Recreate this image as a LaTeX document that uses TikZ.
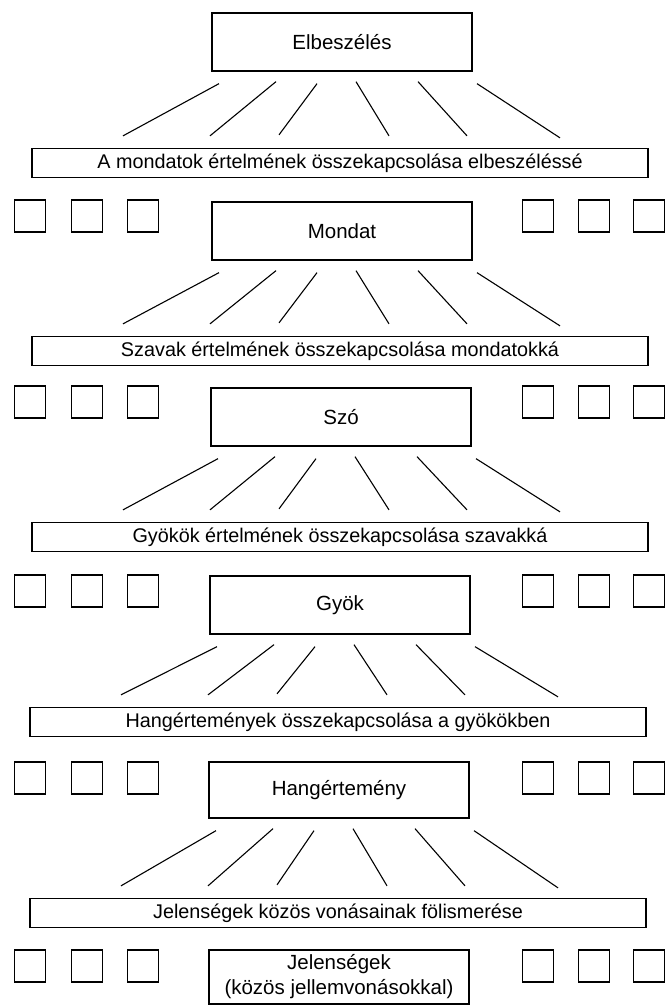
\documentclass[tikz,border=0pt]{standalone}
\usepackage{fontspec}
\setmainfont{Liberation Sans}
\usetikzlibrary{positioning,calc}

\tikzset{
	mainbox/.style={draw, line width=1.3pt, minimum width=260pt, minimum height=58pt,
		inner sep=0pt, align=center, font=\fontsize{20.5}{25}\selectfont},
	linkbar/.style={draw, line width=1.3pt, minimum width=616pt, minimum height=29pt,
		inner sep=0pt, font=\fontsize{19.8}{22}\selectfont},
	slot/.style={draw, line width=1.3pt, minimum width=31pt, minimum height=32pt, inner sep=0pt},
	fan/.style={line width=1.1pt}
}

\begin{document}
\begin{tikzpicture}[x=1pt,y=-1pt]
	\useasboundingbox (0,0) rectangle (666,1006);
	
	% levels
	\node[mainbox] (elb) at (342,42) {Elbeszélés};
	\node[linkbar] (k1) at (340,163) {A mondatok értelmének összekapcsolása elbeszéléssé};
	\node[mainbox] (mon) at (342,231) {Mondat};
	\node[linkbar] (k2) at (340,351) {Szavak értelmének összekapcsolása mondatokká};
	\node[mainbox] (szo) at (341,417) {Szó};
	\node[linkbar] (k3) at (340,537) {Gyökök értelmének összekapcsolása szavakká};
	\node[mainbox] (gyok) at (340,605) {Gyök};
	\node[linkbar] (k4) at (338,722) {Hangértemények összekapcsolása a gyökökben};
	\node[mainbox, minimum height=56pt] (hang) at (339,790) {Hangértemény};
	\node[linkbar] (k5) at (338,913) {Jelenségek közös vonásainak fölismerése};
	\node[mainbox, minimum height=54pt] (jel) at (339,977) {Jelenségek\\(közös jellemvonásokkal)};
	
	% empty slots beside each box
	\foreach \row/\yy in {1/216, 2/402, 3/591, 4/778, 5/966}
		\foreach \xx [count=\j] in {30,87,143,538,594,649}
			\node[slot] (sq\row-\j) at (\xx,\yy) {};
	
	% fans between box and bar
	\foreach \up/\dn in {elb/k1, mon/k2, szo/k3, gyok/k4, hang/k5}
		\foreach \ta/\tb/\ba/\bb [count=\i] in {-123/12/-217/12, -66/10/-130/12, -25/12/-61/13,
			14/10/49/12, 76/10/127/12, 135/12/220/10}
		{
			\coordinate (\up-t\i) at ($(\up.south)+(\ta,\tb)$);
			\coordinate (\up-b\i) at ($(\dn.north)+(\ba,-\bb)$);
			\draw[fan] (\up-t\i) -- (\up-b\i);
		}
\end{tikzpicture}
\end{document}
